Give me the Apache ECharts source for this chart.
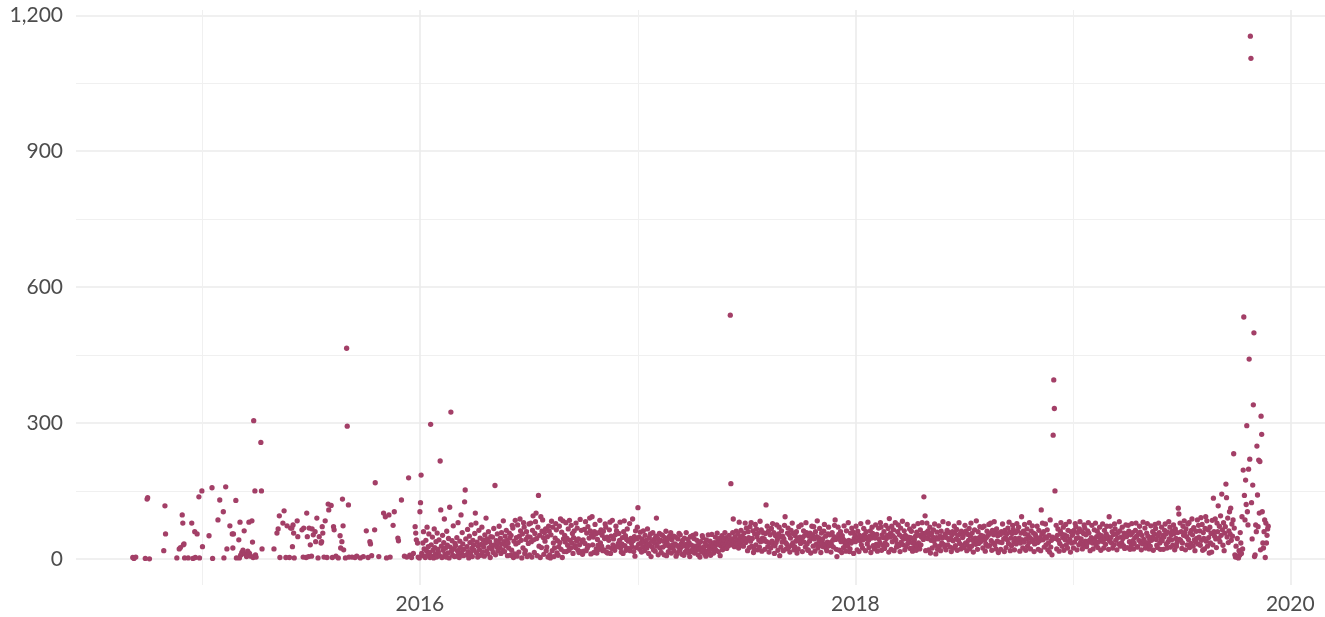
<!DOCTYPE html>
<html>
<head>
<meta charset="utf-8">
<script src="https://cdn.jsdelivr.net/npm/echarts@6.0.0/dist/echarts.min.js"></script>
<style>
html,body{margin:0;padding:0;background:#fff;}
#chart{width:1325px;height:617px;}
</style>
</head>
<body>
<div id="chart"></div>
<script>
// ---- DATA ----
// Early, sparse observations: day offsets from 2014-09-01 and values
const earlyStart = '2014-09-01';
const earlyDay = [5,7,10,26,29,30,33,57,59,60,79,83,85,88,89,90,91,92,98,104,106,109,110,113,116,117,121,122,133,138,139,148,151,157,158,161,163,168,172,173,174,178,179,183,184,185,186,188,190,192,194,196,198,200,201,203,205,206,207,208,210,211,212,220,221,222,242,247,249,251,252,257,259,262,264,268,270,272,273,274,275,276,281,282,289,291,292,297,298,301,303,305,306,308,311,312,314,318,321,322,323,324,328,331,333,334,338,342,343,350,353,354,356,357,358,359,364,365,367,373,381,387,392,397,400,403,404,406,411,412,426,429,435,437,442,444,450,451,456,468,470,473,476,479,480,481,483,484,486,
296,300,316,326,340,346,362,368,378,418,431,461,465];
const earlyVal = [3,1,4,1,132,135,0,18,117,55,2,22,25,97,79,31,33,2,2,79,1,60,3,55,137,2,150,27,51,157,1,86,130,104,2,159,22,73,55,24,55,129,2,42,2,81,8,14,19,62,10,5,17,81,12,6,84,37,3,305,150,9,4,257,150,22,22,57,66,95,3,79,106,3,73,3,68,68,27,75,57,2,84,49,64,4,68,101,49,68,31,6,66,53,60,38,90,49,35,38,71,57,84,3,121,108,118,71,64,2,51,24,38,132,73,20,465,293,119,4,6,2,5,62,3,38,33,7,64,168,101,93,97,4,74,104,46,40,130,179,8,3,12,71,57,42,35,4,2,
3,5,2,4,3,6,2,4,3,5,2,6,4];

// Daily observations, each array starts on 1 January of its year
const values2016 = [
104,124,185,12,8,35,60,22,5,3,41,18,70,9,27,55,14,3,297,31,6,48,19,2,66,25,11,38,4,57,21,
15,42,7,216,108,28,3,52,19,36,88,10,24,4,61,30,13,45,2,114,26,324,17,40,8,73,22,5,34,
29,6,47,18,80,11,3,39,25,97,14,58,33,7,21,126,152,44,9,27,65,16,2,50,36,12,75,23,5,41,30,
19,56,101,79,13,37,4,28,63,20,46,8,32,70,15,42,26,6,53,35,90,17,44,11,60,24,38,3,49,30,
22,48,14,67,31,162,9,40,27,55,18,36,72,25,45,12,58,33,20,84,38,16,50,29,63,41,7,35,24,57,46,
8,52,19,74,68,3,39,11,85,33,47,6,75,36,15,50,88,62,41,2,55,24,80,70,12,18,43,60,5,49,
34,77,9,48,79,38,4,63,95,42,14,56,82,101,45,7,70,140,28,52,3,93,25,61,86,47,10,58,39,66,18,
26,49,4,72,61,9,2,53,83,18,70,35,5,24,46,78,64,13,40,8,27,72,36,88,21,59,3,84,44,16,52,
37,80,16,45,30,66,19,85,41,24,74,35,56,12,47,62,29,25,79,39,68,20,44,14,31,87,16,63,38,10,
42,17,65,34,82,18,57,24,71,29,46,90,62,11,53,93,31,48,14,60,76,55,22,13,43,30,58,21,85,35,64,
28,52,18,61,20,45,77,70,15,48,13,26,41,64,81,12,50,23,85,31,44,26,19,53,72,62,27,29,34,56,
41,81,24,15,33,47,12,60,84,29,51,19,43,66,23,39,22,78,18,45,35,27,88,40,16,49,6,62,25,44,70
];
const values2017 = [
113,32,48,21,59,36,15,44,27,62,38,18,52,29,41,24,66,33,12,47,30,55,5,39,26,58,20,43,35,17,50,
90,28,45,9,37,56,24,41,14,53,52,26,39,9,47,30,61,7,35,44,16,29,50,25,58,13,42,31,
24,50,17,33,48,6,30,12,44,27,56,19,53,25,34,10,41,29,8,46,15,32,58,20,27,43,13,35,5,49,18,
30,16,52,22,45,13,28,55,19,41,26,9,33,21,4,38,24,15,51,47,20,27,11,36,6,42,17,29,53,14,
25,39,8,32,54,21,29,13,36,27,48,19,34,57,40,16,31,45,7,37,28,51,20,33,42,26,58,30,47,23,35,
41,29,52,36,538,166,44,31,58,88,38,27,49,35,61,42,33,55,24,81,46,37,63,30,50,40,28,57,45,79,
36,68,42,18,60,47,25,71,39,80,28,45,62,14,22,55,76,31,66,48,20,57,41,26,83,38,64,17,46,58,40,
44,21,56,119,38,72,27,61,15,35,53,24,67,39,78,33,58,12,29,51,36,75,43,19,55,70,7,48,26,62,37,
50,18,44,74,93,36,22,32,57,68,25,53,15,46,63,30,79,35,56,20,27,51,39,60,13,45,22,71,40,48,
34,75,41,16,48,62,37,52,26,80,58,33,19,20,50,39,57,13,46,72,53,28,71,44,17,60,32,49,84,24,47,
39,67,30,14,57,35,44,27,61,76,33,50,23,18,37,55,70,29,53,36,15,31,58,41,26,49,74,86,43,21,
5,47,70,54,19,43,60,38,14,51,44,25,73,40,33,17,62,37,28,80,41,16,22,57,35,68,39,59,12,45,53
];
const values2018 = [
38,72,44,20,61,47,16,52,40,78,31,49,24,42,67,53,45,18,60,48,33,81,41,25,50,62,14,46,70,56,29,
51,22,46,75,32,54,17,28,68,44,36,80,70,19,53,30,47,60,23,35,74,45,31,52,67,15,89,48,
57,21,72,38,51,64,18,47,80,42,26,33,60,75,29,53,16,68,37,49,83,31,44,62,20,52,27,45,76,34,48,
40,66,23,47,61,36,17,25,72,42,33,50,19,59,28,78,35,52,22,64,31,48,80,56,43,137,49,95,18,58,
79,45,62,20,52,70,13,41,57,24,48,64,39,77,30,11,47,59,21,44,73,28,50,18,61,35,46,82,32,49,26,
55,20,47,63,31,78,42,58,26,45,16,53,60,40,24,72,57,29,44,65,19,52,41,80,34,56,22,61,30,47,
51,25,58,74,35,62,18,30,54,41,67,22,50,79,28,57,42,15,36,64,46,32,84,40,21,60,34,47,71,38,52,
43,69,24,50,72,41,17,33,47,61,28,52,76,29,57,79,40,19,63,35,53,82,31,58,22,66,39,51,14,56,37,
54,21,60,36,77,57,44,16,63,47,25,55,42,68,34,81,59,18,46,29,56,74,65,37,20,45,58,33,78,62,
39,70,46,17,35,57,93,42,24,61,37,76,55,19,44,66,28,53,36,80,47,22,62,43,73,38,57,16,33,54,49,
44,72,36,21,63,40,47,18,108,55,79,42,60,26,49,77,31,46,64,20,35,52,15,86,26,41,9,48,273,395,
332,150,45,74,22,52,66,41,17,34,61,80,55,28,47,70,19,53,42,76,31,50,24,63,38,82,43,15,60,35,52
];
const values2019 = [
55,24,63,37,78,71,45,20,58,47,31,66,82,36,44,60,22,31,56,75,68,39,53,27,34,62,80,57,41,18,38,
47,74,35,22,44,64,40,79,30,49,61,25,37,54,70,46,19,51,42,77,38,24,63,45,32,55,72,50,
44,21,93,39,72,47,35,60,24,54,31,77,66,41,55,20,46,58,33,82,62,28,48,36,70,45,29,57,23,51,75,
49,25,56,74,61,38,21,53,30,78,58,40,22,34,47,63,79,50,26,27,55,41,72,59,36,20,52,33,81,43,
39,68,24,31,57,78,50,36,22,44,28,73,41,48,60,19,45,55,76,67,43,30,25,51,79,58,35,21,44,70,40,
52,21,48,63,77,55,33,24,59,38,82,44,70,26,53,42,61,30,75,56,20,66,45,28,36,58,112,99,43,79,
41,60,23,35,72,52,84,58,20,66,49,31,77,43,80,25,57,34,63,88,53,28,69,42,18,37,61,45,86,33,74,
48,62,30,91,41,76,19,58,45,22,67,93,39,84,28,64,47,13,70,35,56,15,85,31,134,60,50,88,44,25,79,
60,117,45,72,38,95,52,143,64,30,80,18,57,71,165,135,48,90,36,62,104,55,112,41,77,50,86,232,68,9,
4,28,6,45,3,2,18,8,58,35,12,93,22,196,534,140,86,174,120,294,104,75,198,441,220,1154,1105,124,44,163,340,
499,5,9,75,60,249,141,71,218,101,215,20,315,275,104,35,24,60,86,3,79,35,52,66,72
];

const xMajorYears = [2016, 2018, 2020];
const xMinorYears = [2015, 2017, 2019];
const yMajorTicks = [0, 300, 600, 900, 1200];
const yMinorTicks = [150, 450, 750, 1050];

// ---- BUILD ----
const points = [];
const es = earlyStart.split('-').map(Number);
earlyDay.forEach((d, i) => points.push([Date.UTC(es[0], es[1] - 1, es[2] + d), earlyVal[i]]));
[[2016, values2016], [2017, values2017], [2018, values2018], [2019, values2019]].forEach(([yr, arr]) => {
  arr.forEach((v, i) => { if (v !== null) points.push([Date.UTC(yr, 0, 1 + i), v]); });
});

const xs = points.map(p => p[0]);
const ys = points.map(p => p[1]);
const tMin = Math.min(...xs), tMax = Math.max(...xs);
const vMin = Math.min(...ys), vMax = Math.max(...ys);
const xPad = 0.05 * (tMax - tMin), yPad = 0.05 * (vMax - vMin);
const xMin = tMin - xPad, xMax = tMax + xPad;
const yMin = vMin - yPad, yMax = vMax + yPad;

const yearTs = y => Date.UTC(y, 0, 1);
const FONT = 'Lato';
const LABEL_COLOR = '#4d4d4d';

const chart = echarts.init(document.getElementById('chart'), null, { renderer: 'canvas' });
chart.setOption({
  animation: false,
  backgroundColor: '#ffffff',
  grid: { left: 76, right: 0, top: 10, bottom: 32, containLabel: false },
  xAxis: [
    {
      type: 'value', min: xMin, max: xMax, position: 'bottom',
      axisLine: { show: false },
      axisTick: { show: false, customValues: xMajorYears.map(yearTs) },
      axisLabel: {
        customValues: xMajorYears.map(yearTs),
        formatter: v => String(new Date(v).getUTCFullYear()),
        color: LABEL_COLOR, fontFamily: FONT, fontSize: 21, margin: 9
      },
      splitLine: { show: true, lineStyle: { color: '#ebebeb', width: 1.6 } }
    },
    {
      type: 'value', min: xMin, max: xMax, position: 'top',
      axisLine: { show: false },
      axisTick: { show: false, customValues: xMinorYears.map(yearTs) },
      axisLabel: { show: false },
      splitLine: { show: true, lineStyle: { color: '#f0f0f0', width: 1.1 } }
    }
  ],
  yAxis: [
    {
      type: 'value', min: yMin, max: yMax, position: 'left',
      axisLine: { show: false },
      axisTick: { show: false, customValues: yMajorTicks },
      axisLabel: {
        customValues: yMajorTicks,
        formatter: v => Number(v).toLocaleString('en-US'),
        color: LABEL_COLOR, fontFamily: FONT, fontSize: 21, margin: 13
      },
      splitLine: { show: true, lineStyle: { color: '#ebebeb', width: 1.6 } }
    },
    {
      type: 'value', min: yMin, max: yMax, position: 'right',
      axisLine: { show: false },
      axisTick: { show: false, customValues: yMinorTicks },
      axisLabel: { show: false },
      splitLine: { show: true, lineStyle: { color: '#f0f0f0', width: 1.1 } }
    }
  ],
  series: [{
    type: 'scatter',
    xAxisIndex: 0, yAxisIndex: 0,
    data: points,
    symbol: 'circle',
    symbolSize: 5.3,
    itemStyle: { color: '#a33f67', opacity: 1 },
    emphasis: { disabled: true }
  }]
});
</script>
</body>
</html>
